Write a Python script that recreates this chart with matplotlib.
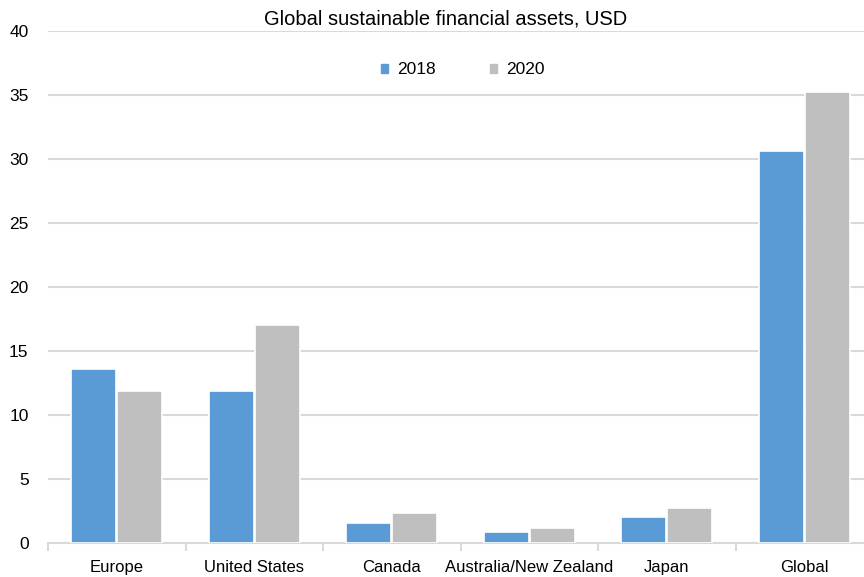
import numpy as np
import matplotlib.pyplot as plt
from matplotlib.patches import Patch

plt.rcParams['font.family'] = ['Liberation Sans', 'DejaVu Sans']

regions = ['Europe', 'United States', 'Canada', 'Australia/New Zealand', 'Japan', 'Global']
assets_2018 = [13.6, 11.9, 1.55, 0.85, 2.05, 30.6]
assets_2020 = [11.9, 17.0, 2.35, 1.15, 2.75, 35.2]

blue = '#5B9BD5'
grey = '#BFBFBF'

fig = plt.figure(figsize=(8.64, 5.77), dpi=100)
# axis runs a little past the right edge of the figure
ax = fig.add_axes([48/864, 34/577, 825/864, 512/577])

x = np.arange(len(regions))
w = 0.325
ax.bar(x - 0.167, assets_2018, w, color=blue, edgecolor='white', linewidth=1.2, zorder=3)
ax.bar(x + 0.167, assets_2020, w, color=grey, edgecolor='white', linewidth=1.2, zorder=3)

ax.set_xlim(-0.5, len(regions) - 0.5)
ax.set_ylim(0, 40)
ax.set_yticks(np.arange(0, 41, 5))
ax.yaxis.grid(True, color='#D9D9D9', linewidth=1.5, zorder=0)
ax.set_axisbelow(True)

ax.set_xticks(x)
ax.set_xticklabels(regions)
ax.set_xticks(np.arange(-0.5, len(regions), 1), minor=True)
ax.tick_params(axis='x', which='major', length=0, pad=12, labelsize=12)
ax.tick_params(axis='x', which='minor', length=6, width=1.5, color='#D9D9D9')
ax.tick_params(axis='y', length=0, pad=14, labelsize=12.5)

for s in ['top', 'right', 'left']:
    ax.spines[s].set_visible(False)
ax.spines['bottom'].set_color('#D9D9D9')
ax.spines['bottom'].set_linewidth(1.5)

fig.text(446/864, 1 - 19/577, 'Global sustainable financial assets, USD',
         ha='center', va='center', fontsize=14.5)

handles = [Patch(color=blue, label='2018'), Patch(color=grey, label='2020')]
fig.legend(handles=handles, loc='center', bbox_to_anchor=(463/864, 1 - 70/577),
           ncol=2, frameon=False, fontsize=12.5, handlelength=0.38, handleheight=0.38,
           handletextpad=0.55, columnspacing=3.1)

fig.savefig('out.png', dpi=100)
